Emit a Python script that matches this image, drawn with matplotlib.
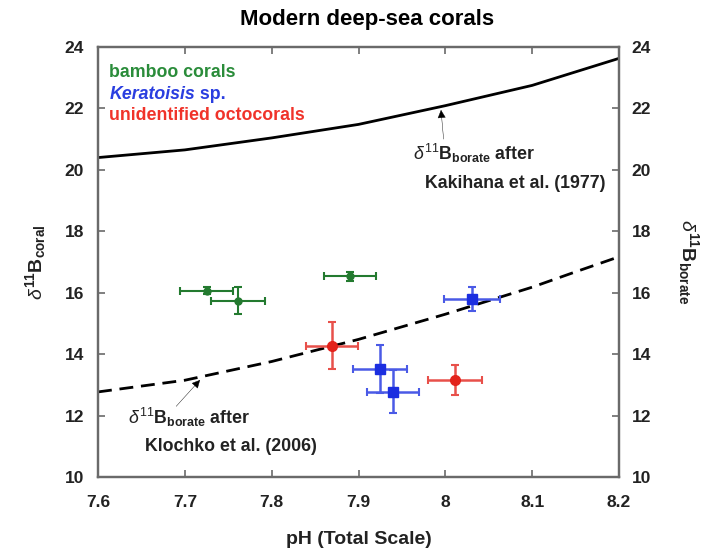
import numpy as np
import matplotlib.pyplot as plt

plt.rcParams['font.family'] = ['Liberation Sans', 'DejaVu Sans']
plt.rcParams['mathtext.fontset'] = 'custom'
plt.rcParams['mathtext.rm'] = 'Liberation Sans'
plt.rcParams['mathtext.bf'] = 'Liberation Sans:bold'
plt.rcParams['mathtext.it'] = 'Liberation Sans:italic'

# coral measurements: pH, d11B and their uncertainties
bamboo_ph = [7.725, 7.761, 7.890]
bamboo_d11b = [16.07, 15.74, 16.53]
bamboo_ph_err = [0.031, 0.031, 0.030]
bamboo_d11b_err = [0.10, 0.44, 0.16]

kera_ph = [7.925, 7.940, 8.031]
kera_d11b = [13.52, 12.77, 15.80]
kera_ph_err = [0.031, 0.030, 0.032]
kera_d11b_err = [0.77, 0.70, 0.40]

octo_ph = [7.869, 8.011]
octo_d11b = [14.28, 13.15]
octo_ph_err = [0.030, 0.031]
octo_d11b_err = [0.76, 0.49]

# borate curves
curve_ph = [7.6, 7.7, 7.8, 7.9, 8.0, 8.1, 8.15, 8.2]
borate_kakihana = [20.40, 20.65, 21.04, 21.48, 22.09, 22.75, 23.19, 23.63]
borate_klochko = [12.77, 13.15, 13.76, 14.48, 15.30, 16.18, 16.68, 17.17]

green = '#237a2f'
blue = '#1b2ee0'
red = '#e3221b'
spine_col = '#6a6a6a'
txt_col = '#222222'
fs = 12.8

fig = plt.figure(figsize=(7.04, 5.52), dpi=100)
ax = fig.add_axes([98/704, 1 - 477/552, (619 - 98)/704, (477 - 47)/552])

ax.plot(curve_ph, borate_kakihana, color='k', lw=2.0, zorder=2)
ax.plot(curve_ph, borate_klochko, color='k', lw=2.0, ls=(0, (5, 2.8)), zorder=2)

ax.errorbar(bamboo_ph, bamboo_d11b, xerr=bamboo_ph_err, yerr=bamboo_d11b_err,
            fmt='o', ms=5, color=green, ecolor=green, elinewidth=1.5,
            capsize=3, capthick=1.5, zorder=3)
ax.errorbar(kera_ph, kera_d11b, xerr=kera_ph_err, yerr=kera_d11b_err,
            fmt='s', ms=7, color=blue, ecolor='#4a5ae6', elinewidth=1.8,
            capsize=3, capthick=1.5, zorder=3)
ax.errorbar(octo_ph, octo_d11b, xerr=octo_ph_err, yerr=octo_d11b_err,
            fmt='o', ms=7, color=red, ecolor='#e8504a', elinewidth=1.8,
            capsize=3, capthick=1.5, zorder=3)

ax.set_xlim(7.6, 8.2)
ax.set_ylim(10, 24)
ax.set_xticks([7.6, 7.7, 7.8, 7.9, 8.0, 8.1, 8.2])
ax.set_xticklabels(['7.6', '7.7', '7.8', '7.9', '8', '8.1', '8.2'])
ax.set_yticks(np.arange(10, 25, 2))

for s in ax.spines.values():
    s.set_color(spine_col)
    s.set_linewidth(1.6)
ax.tick_params(direction='in', length=5, width=1.2, color=spine_col,
               top=True, labelsize=12.5, labelcolor=txt_col)
ax.tick_params(axis='x', pad=13)
ax.tick_params(axis='y', pad=10)
for lab in ax.get_xticklabels() + ax.get_yticklabels():
    lab.set_fontweight('bold')

ax2 = ax.twinx()
ax2.set_ylim(10, 24)
ax2.set_yticks(np.arange(10, 25, 2))
ax2.tick_params(direction='in', length=5, width=1.2, color=spine_col,
                labelsize=12.5, labelcolor=txt_col, pad=9)
for lab in ax2.get_yticklabels():
    lab.set_fontweight('bold')
for s in ax2.spines.values():
    s.set_color(spine_col)
    s.set_linewidth(1.6)

ax.set_xlabel('pH (Total Scale)', fontsize=14, fontweight='bold', labelpad=15,
              color=txt_col)
ax.set_ylabel(r'$\delta^{\mathbf{11}}\mathbf{B}_{\mathbf{coral}}$', fontsize=14,
              labelpad=12, color=txt_col)
ax2.set_ylabel(r'$\delta^{\mathbf{11}}\mathbf{B}_{\mathbf{borate}}$', fontsize=14,
               rotation=270, labelpad=36, color=txt_col)

fig.text(367/704, 1 - 20/552, 'Modern deep-sea corals', ha='center', va='center',
         fontsize=16, fontweight='bold')

# species key
ax.text(7.613, 23.18, 'bamboo corals', color='#2a8c3a', fontsize=fs,
        fontweight='bold', va='center')
kera = ax.text(7.613, 22.45, 'Keratoisis', color='#2a3ee0', fontsize=fs,
               fontweight='bold', style='italic', va='center')
ax.annotate(' sp.', xy=(1, 0.5), xycoords=kera, va='center', ha='left',
            color='#2a3ee0', fontsize=fs, fontweight='bold')
ax.text(7.613, 21.77, 'unidentified octocorals', color='#f0332a', fontsize=fs,
        fontweight='bold', va='center')

# curve labels with pointers
arrow = dict(arrowstyle='-|>', color='k', lw=0.3, mutation_scale=13, shrinkA=0, shrinkB=0)
ax.annotate('', xy=(7.995, 21.95), xytext=(7.998, 21.0), arrowprops=arrow)
ax.text(7.963, 20.55, r'$\delta^{11}\mathbf{B}_{\mathbf{borate}}$ after', fontsize=fs,
        fontweight='bold', va='center', color=txt_col)
ax.text(7.977, 19.55, 'Kakihana et al. (1977)', fontsize=fs, fontweight='bold',
        va='center', color=txt_col)

ax.annotate('', xy=(7.7175, 13.16), xytext=(7.69, 12.3), arrowprops=arrow)
ax.text(7.635, 11.95, r'$\delta^{11}\mathbf{B}_{\mathbf{borate}}$ after', fontsize=fs,
        fontweight='bold', va='center', color=txt_col)
ax.text(7.654, 10.98, 'Klochko et al. (2006)', fontsize=fs, fontweight='bold',
        va='center', color=txt_col)

fig.savefig('out.png', dpi=100)
